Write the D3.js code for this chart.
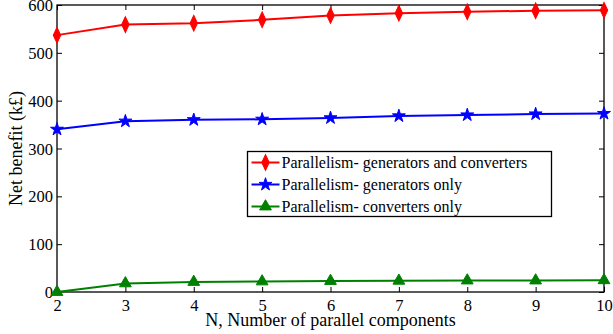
<!DOCTYPE html>
<html>
<head>
<meta charset="utf-8">
<script src="https://cdn.jsdelivr.net/npm/d3@7"></script>
<style>
  html, body { margin: 0; padding: 0; background: #fff; }
  svg { display: block; }
</style>
</head>
<body>
<svg id="chart" width="613" height="334"></svg>
<script>
// Number of parallel components
const components = [2, 3, 4, 5, 6, 7, 8, 9, 10];

// Net benefit (k£) for each parallelism strategy
const genAndConv = [537, 559, 562, 569, 578, 583, 586, 588, 589];
const genOnly    = [340, 357, 360, 361, 364, 368, 370, 372, 373];
const convOnly   = [0, 18, 21, 22, 23, 23.5, 24, 24, 24.5];

const xTicks = [2, 3, 4, 5, 6, 7, 8, 9, 10];
const yTicks = [0, 100, 200, 300, 400, 500, 600];

const seriesNames = [
  "Parallelism- generators and converters",
  "Parallelism- generators only",
  "Parallelism- converters only"
];
const seriesValues = [genAndConv, genOnly, convOnly];
const seriesColors = ["#ff0000", "#0000ff", "#008000"];
const seriesSymbols = [d3.symbolDiamond, d3.symbolStar, d3.symbolTriangle];
const symbolSizes = [60, 52, 60];

const FONT = "Liberation Serif";
const margin = { left: 57, right: 9, top: 5, bottom: 42 };
const W = 613, H = 334;
const svg = d3.select("#chart").attr("font-family", FONT);

const x = d3.scaleLinear().domain([2, 10]).range([margin.left, W - margin.right]);
const y = d3.scaleLinear().domain([0, 600]).range([H - margin.bottom, margin.top]);

const tickLen = 5;

// Axes: ticks point inward on all four sides
const gBottom = svg.append("g").attr("transform", `translate(0,${y(0)})`)
  .call(d3.axisBottom(x).tickValues(xTicks).tickSize(-tickLen).tickPadding(9).tickFormat(d3.format("d")));
const gTop = svg.append("g").attr("transform", `translate(0,${y(600)})`)
  .call(d3.axisTop(x).tickValues(xTicks).tickSize(-tickLen).tickFormat(""));
const gLeft = svg.append("g").attr("transform", `translate(${x(2)},0)`)
  .call(d3.axisLeft(y).tickValues(yTicks).tickSize(-tickLen).tickPadding(4).tickFormat(d3.format("d")));
const gRight = svg.append("g").attr("transform", `translate(${x(10)},0)`)
  .call(d3.axisRight(y).tickValues(yTicks).tickSize(-tickLen).tickFormat(""));

[gBottom, gTop, gLeft, gRight].forEach(g => {
  g.attr("font-family", FONT).attr("font-size", 16.5);
  g.select(".domain").remove();
  g.selectAll(".tick line").attr("stroke", "#000").attr("stroke-width", 1);
  g.selectAll(".tick text").attr("fill", "#000")
    .attr("font-family", FONT).attr("font-size", 16.5);
});
gBottom.selectAll(".tick text").attr("dy", "0.6em");
gLeft.selectAll(".tick text").attr("dy", "0.34em");

// Plot frame
svg.append("rect")
  .attr("x", x(2)).attr("y", y(600))
  .attr("width", x(10) - x(2)).attr("height", y(0) - y(600))
  .attr("fill", "none").attr("stroke", "#000").attr("stroke-width", 1.3);

// Series lines and markers
const line = d3.line().x((d, i) => x(components[i])).y(d => y(d));

seriesValues.forEach((vals, s) => {
  svg.append("path")
    .datum(vals)
    .attr("d", line)
    .attr("fill", "none")
    .attr("stroke", seriesColors[s])
    .attr("stroke-width", 2);

  const sym = d3.symbol().type(seriesSymbols[s]).size(symbolSizes[s]);
  svg.append("g").selectAll("path")
    .data(vals)
    .join("path")
    .attr("d", sym)
    .attr("transform", (d, i) => {
      const sy = s === 0 ? " scale(0.9,1.1)" : "";
      return `translate(${x(components[i])},${y(d)})${sy}`;
    })
    .attr("fill", seriesColors[s])
    .attr("stroke", seriesColors[s])
    .attr("stroke-width", 1);
});

// Legend
const lg = svg.append("g");
const lgX = 247.5, lgY = 151.5, lgW = 304, lgH = 65;
lg.append("rect")
  .attr("x", lgX).attr("y", lgY).attr("width", lgW).attr("height", lgH)
  .attr("fill", "#fff").attr("stroke", "#000").attr("stroke-width", 1.3);

seriesNames.forEach((name, s) => {
  const cy = lgY + 11 + s * 22;
  lg.append("line")
    .attr("x1", lgX + 4).attr("x2", lgX + 32)
    .attr("y1", cy).attr("y2", cy)
    .attr("stroke", seriesColors[s]).attr("stroke-width", 2);
  const sy = s === 0 ? " scale(0.9,1.1)" : "";
  lg.append("path")
    .attr("d", d3.symbol().type(seriesSymbols[s]).size(symbolSizes[s]))
    .attr("transform", `translate(${lgX + 18},${cy})${sy}`)
    .attr("fill", seriesColors[s]).attr("stroke", seriesColors[s]);
  lg.append("text")
    .attr("x", lgX + 34).attr("y", cy + 5.5)
    .attr("font-family", FONT).attr("font-size", 16)
    .attr("fill", "#000")
    .text(name);
});

// Axis titles
svg.append("text")
  .attr("x", (x(2) + x(10)) / 2).attr("y", 326)
  .attr("text-anchor", "middle")
  .attr("font-family", FONT).attr("font-size", 18)
  .text("N, Number of parallel components");

svg.append("text")
  .attr("transform", `translate(22,${(y(0) + y(600)) / 2}) rotate(-90)`)
  .attr("text-anchor", "middle")
  .attr("font-family", FONT).attr("font-size", 18)
  .text("Net benefit (k£)");
</script>
</body>
</html>
